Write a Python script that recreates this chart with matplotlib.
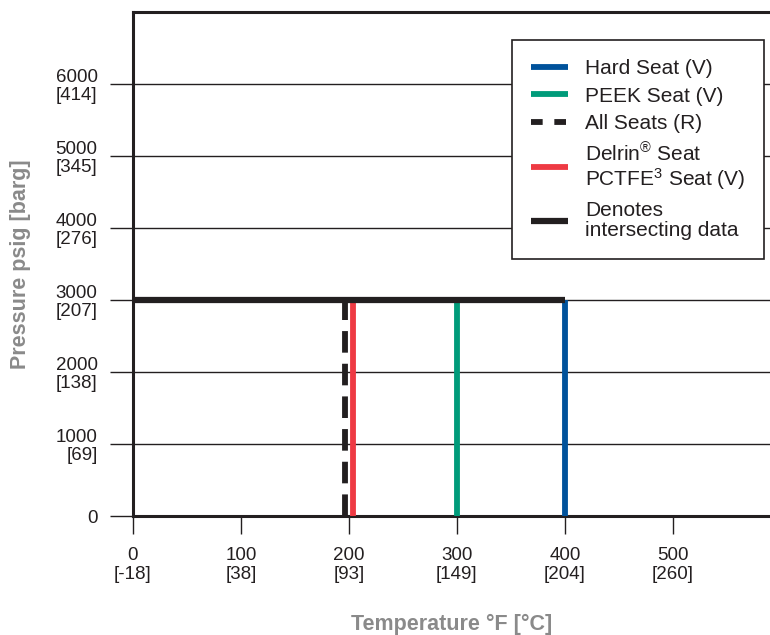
import matplotlib
matplotlib.use("Agg")
import matplotlib.pyplot as plt
import matplotlib.transforms as mtransforms
from matplotlib.lines import Line2D

plt.rcParams['font.family'] = ['Liberation Sans', 'DejaVu Sans']
plt.rcParams['mathtext.fontset'] = 'custom'
plt.rcParams['mathtext.rm'] = 'Liberation Sans'
plt.rcParams['mathtext.it'] = 'Liberation Sans:italic'

# datos
temp_f_ticks = [0, 100, 200, 300, 400, 500]
temp_c_ticks = [-18, 38, 93, 149, 204, 260]
psig_ticks = [0, 1000, 2000, 3000, 4000, 5000, 6000]
barg_ticks = [None, 69, 138, 207, 276, 345, 414]

seat_names = ["Hard Seat (V)", "PEEK Seat (V)", "All Seats (R)",
              "Delrin$^{\\circledR}$ Seat\nPCTFE$^{\\mathit{3}}$ Seat (V)"]
seat_max_temp = [400, 300, 200, 200]
seat_max_psig = [3000, 3000, 3000, 3000]
intersect_temp = [0, 400]
intersect_psig = [3000, 3000]

colores = ["#00529b", "#009b7a", "#231f20", "#ee3a43"]
estilos = ["-", "-", "--", "-"]
desplaz = [0, 0, -3, 3]  # puntos, para separar lineas superpuestas en 200F

fig = plt.figure(figsize=(7.7, 6.35), dpi=100)
ax = fig.add_axes([0.1727, 0.1874, 0.8273, 0.7937])

ax.set_xlim(0, 590)
ax.set_ylim(0, 7000)

# lineas de las series
for i in range(len(seat_names)):
    tr = ax.transData + mtransforms.ScaledTranslation(desplaz[i] / 72, 0, fig.dpi_scale_trans)
    ln, = ax.plot([seat_max_temp[i], seat_max_temp[i]], [0, seat_max_psig[i]],
                  color=colores[i], lw=4.2, ls=estilos[i], transform=tr,
                  solid_capstyle='butt', zorder=3)
    if estilos[i] == "--":
        ln.set_dashes((3.7, 1.9))

ax.plot(intersect_temp, intersect_psig, color="#231f20", lw=4.5,
        solid_capstyle='butt', zorder=4)

# grilla
ax.yaxis.grid(True, color="#231f20", lw=1.0)
ax.set_axisbelow(True)

ax.set_xticks(temp_f_ticks)
ax.set_xticklabels([f"{f}\n[{c}]" for f, c in zip(temp_f_ticks, temp_c_ticks)],
                   linespacing=1.2)
ax.set_yticks(psig_ticks)
ax.set_yticklabels([f"{p}" if b is None else f"{p}\n[{b}]" for p, b in zip(psig_ticks, barg_ticks)],
                   linespacing=1.08)

ax.tick_params(axis='y', length=16.5, width=1.0, color="#231f20", pad=9,
               labelsize=13.5, labelcolor="#231f20")
ax.tick_params(axis='x', length=13, width=1.0, color="#231f20", pad=9,
               labelsize=13.5, labelcolor="#231f20")

for s in ["left", "bottom", "top"]:
    ax.spines[s].set_linewidth(2.2)
    ax.spines[s].set_color("#231f20")
ax.spines["right"].set_visible(False)

ax.set_xlabel("Temperature °F [°C]", fontsize=15.5, fontweight='bold',
              color="#8a8a8a", labelpad=22)
ax.set_ylabel("Pressure psig [barg]", fontsize=15.5, fontweight='bold',
              color="#8a8a8a", labelpad=18)

# leyenda
handles = []
for i in range(len(seat_names)):
    if estilos[i] == "--":
        h = Line2D([], [], color=colores[i], lw=4.2, ls=(0, (2.0, 2.0)))
    else:
        h = Line2D([], [], color=colores[i], lw=4.2, solid_capstyle='butt')
    handles.append(h)
handles.append(Line2D([], [], color="#231f20", lw=4.5, solid_capstyle='butt'))
labels = seat_names + ["Denotes\nintersecting data"]

leg = ax.legend(handles, labels, loc="upper left", bbox_to_anchor=(0.595, 0.944),
                fontsize=15, frameon=True, fancybox=False, framealpha=1,
                edgecolor="#231f20", handlelength=1.8, handletextpad=0.8,
                labelspacing=0.42, borderpad=0.9, borderaxespad=0)
leg.get_frame().set_linewidth(1.2)
for t in leg.get_texts():
    t.set_color("#231f20")
    t.set_linespacing(1.05)

fig.savefig("out.png", dpi=100)
